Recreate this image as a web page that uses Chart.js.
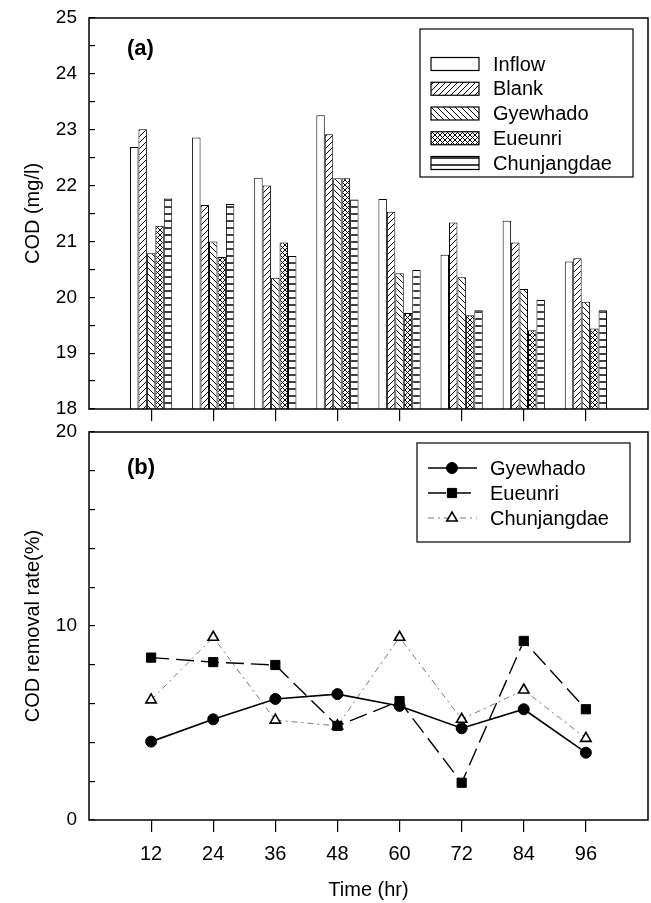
<!DOCTYPE html>
<html>
<head>
<meta charset="utf-8">
<script src="https://cdn.jsdelivr.net/npm/chart.js@4.4.1/dist/chart.umd.min.js"></script>
<style>
  html, body { margin: 0; padding: 0; background: #fff; }
  #wrap { position: relative; width: 651px; height: 903px; }
  #cod { position: absolute; left: 0; top: 0; }
  #rate { position: absolute; left: 0; top: 420px; }
</style>
</head>
<body>
<div id="wrap">
  <canvas id="cod" width="651" height="432"></canvas>
  <canvas id="rate" width="651" height="483"></canvas>
</div>
<script>
// sampling times (hr)
const hours = [12, 24, 36, 48, 60, 72, 84, 96];

// (a) COD, mg/l
const inflow = [22.69, 22.86, 22.14, 23.26, 21.76, 20.76, 21.37, 20.64];
const blank = [23.01, 21.65, 22.00, 22.92, 21.53, 21.34, 20.98, 20.70];
const gyewhadoCod = [20.79, 21.00, 20.35, 22.13, 20.43, 20.36, 20.15, 19.92];
const eueunriCod = [21.28, 20.72, 20.98, 22.13, 19.72, 19.68, 19.41, 19.44];
const chunjangdaeCod = [21.77, 21.67, 20.74, 21.75, 20.49, 19.77, 19.95, 19.77];

// (b) COD removal rate, %
const gyewhadoRate = [4.04, 5.19, 6.24, 6.49, 5.88, 4.73, 5.71, 3.47];
const eueunriRate = [8.37, 8.14, 7.99, 4.85, 6.13, 1.92, 9.23, 5.71];
const chunjangdaeRate = [6.19, 9.42, 5.15, 4.85, 9.42, 5.19, 6.70, 4.21];

const FONT = '"Liberation Sans", Arial, sans-serif';
Chart.defaults.font.family = FONT;
Chart.defaults.color = '#000';

function pts(vals) {
  return hours.map((h, i) => ({ x: h, y: vals[i] }));
}

// hatch fills for the bars
function hatch(kind) {
  const c = document.createElement('canvas');
  const s = kind === 'x' ? 5 : (kind === 'h' ? 7 : 6);
  c.width = s; c.height = s;
  const g = c.getContext('2d');
  g.fillStyle = '#fff';
  g.fillRect(0, 0, s, s);
  if (kind === 'none') return g.createPattern(c, 'repeat');
  g.strokeStyle = '#000';
  g.lineWidth = 1;
  g.beginPath();
  if (kind === '/' || kind === 'x') {
    g.moveTo(-1, s + 1); g.lineTo(s + 1, -1);
    g.moveTo(-1, 1); g.lineTo(1, -1);
    g.moveTo(s - 1, s + 1); g.lineTo(s + 1, s - 1);
  }
  if (kind === '\\' || kind === 'x') {
    g.moveTo(-1, -1); g.lineTo(s + 1, s + 1);
    g.moveTo(s - 1, -1); g.lineTo(s + 1, 1);
    g.moveTo(-1, s - 1); g.lineTo(1, s + 1);
  }
  if (kind === 'h') {
    g.lineWidth = 1.5;
    g.moveTo(0, 4); g.lineTo(s, 4);
  }
  g.stroke();
  return g.createPattern(c, 'repeat');
}

const hideEnds = ctx => (ctx.tick && (ctx.tick.value === 0 || ctx.tick.value === 108)) ? 'rgba(0,0,0,0)' : '#000';

// the tick padding would otherwise be added to the plot margins
const fixY = s => { s.width = 89; s.paddingTop = 0; s.paddingBottom = 0; };
const fixX = h => s => { s.height = h; s.paddingLeft = 0; s.paddingRight = 0; };

// box round the plot, panel tag and a boxed legend inside the plot
const frame = {
  id: 'frame',
  afterDraw(chart, args, o) {
    const { ctx, chartArea: a } = chart;
    ctx.save();
    ctx.strokeStyle = '#000';
    ctx.lineWidth = 1.5;
    ctx.setLineDash([]);
    ctx.strokeRect(a.left, a.top, a.right - a.left, a.bottom - a.top);

    ctx.fillStyle = '#000';
    ctx.font = 'bold 22px ' + FONT;
    ctx.textBaseline = 'middle';
    ctx.textAlign = 'left';
    ctx.fillText(o.tag, a.left + 38, a.top + o.tagY);

    const bx = a.right - o.boxRight - o.boxW, by = a.top + o.boxTop;
    ctx.fillStyle = '#fff';
    ctx.fillRect(bx, by, o.boxW, o.boxH);
    ctx.lineWidth = 1.2;
    ctx.strokeRect(bx, by, o.boxW, o.boxH);

    chart.data.datasets.forEach((ds, i) => {
      const y = by + o.first + i * o.step;
      const sx = bx + 11;
      if (o.kind === 'bar') {
        ctx.fillStyle = ds.backgroundColor;
        ctx.fillRect(sx, y - 6.5, 48, 13);
        ctx.lineWidth = 1.2;
        ctx.strokeStyle = '#000';
        ctx.strokeRect(sx, y - 6.5, 48, 13);
      } else {
        ctx.strokeStyle = ds.borderColor;
        ctx.lineWidth = ds.borderWidth;
        ctx.setLineDash(ds.borderDash || []);
        ctx.beginPath();
        ctx.moveTo(sx, y); ctx.lineTo(sx + 49, y);
        ctx.stroke();
        ctx.setLineDash([]);
        ctx.fillStyle = ds.pointBackgroundColor;
        ctx.strokeStyle = ds.pointBorderColor;
        ctx.lineWidth = ds.pointBorderWidth;
        ctx.beginPath();
        const r = ds.pointRadius;
        if (ds.pointStyle === 'circle') {
          ctx.arc(sx + 24, y, r, 0, Math.PI * 2);
        } else if (ds.pointStyle === 'rect') {
          const h = r * Math.SQRT1_2;
          ctx.rect(sx + 24 - h, y - h, 2 * h, 2 * h);
        } else {
          ctx.moveTo(sx + 24, y - r);
          ctx.lineTo(sx + 24 + r * 0.866, y + r * 0.5);
          ctx.lineTo(sx + 24 - r * 0.866, y + r * 0.5);
          ctx.closePath();
        }
        ctx.fill();
        ctx.stroke();
      }
      ctx.fillStyle = '#000';
      ctx.font = '20px ' + FONT;
      ctx.textBaseline = 'middle';
      ctx.fillText(ds.label, bx + o.textX, y + 1);
    });
    ctx.restore();
  }
};

const barStyle = { borderColor: '#000', borderWidth: 1, categoryPercentage: 0.68, barPercentage: 1.0 };

new Chart(document.getElementById('cod').getContext('2d'), {
  type: 'bar',
  data: {
    datasets: [
      { label: 'Inflow', data: pts(inflow), backgroundColor: hatch('none'), ...barStyle },
      { label: 'Blank', data: pts(blank), backgroundColor: hatch('/'), ...barStyle },
      { label: 'Gyewhado', data: pts(gyewhadoCod), backgroundColor: hatch('\\'), ...barStyle },
      { label: 'Eueunri', data: pts(eueunriCod), backgroundColor: hatch('x'), ...barStyle },
      { label: 'Chunjangdae', data: pts(chunjangdaeCod), backgroundColor: hatch('h'), ...barStyle }
    ]
  },
  options: {
    responsive: false,
    animation: false,
    layout: { autoPadding: false, padding: { left: 0, right: 3, top: 18, bottom: 0 } },
    scales: {
      x: {
        type: 'linear',
        min: 0, max: 108,
        offset: false,
        border: { display: false },
        grid: { offset: false, drawOnChartArea: false, tickLength: 12, lineWidth: 1.2, color: hideEnds },
        ticks: { display: false, stepSize: 12 },
        afterFit: fixX(23)
      },
      y: {
        min: 18, max: 25,
        border: { display: false },
        grid: { drawOnChartArea: false, tickLength: -6, lineWidth: 1.2, color: '#000' },
        ticks: {
          stepSize: 0.5, padding: 18,
          font: { size: 19 },
          callback: v => Number.isInteger(v) ? v : ''
        },
        title: { display: true, text: 'COD (mg/l)', font: { size: 20 }, padding: { top: 21 } },
        afterFit: fixY
      }
    },
    plugins: {
      legend: { display: false },
      tooltip: { enabled: false },
      frame: { tag: '(a)', tagY: 31, kind: 'bar', boxRight: 15, boxW: 213, boxTop: 11, boxH: 148, first: 35, step: 24.75, textX: 73 }
    }
  },
  plugins: [frame]
});

new Chart(document.getElementById('rate').getContext('2d'), {
  type: 'line',
  data: {
    datasets: [
      {
        label: 'Gyewhado', data: pts(gyewhadoRate),
        borderColor: '#000', borderWidth: 1.6,
        pointStyle: 'circle', pointRadius: 5.5, pointBackgroundColor: '#000', pointBorderColor: '#000', pointBorderWidth: 1
      },
      {
        label: 'Eueunri', data: pts(eueunriRate),
        borderColor: '#000', borderWidth: 1.4, borderDash: [18, 7],
        pointStyle: 'rect', pointRadius: 6.5, pointBackgroundColor: '#000', pointBorderColor: '#000', pointBorderWidth: 1
      },
      {
        label: 'Chunjangdae', data: pts(chunjangdaeRate),
        borderColor: '#777', borderWidth: 1, borderDash: [6, 4, 2, 4],
        pointStyle: 'triangle', pointRadius: 6, pointBackgroundColor: '#fff', pointBorderColor: '#000', pointBorderWidth: 1.6
      }
    ]
  },
  options: {
    responsive: false,
    animation: false,
    layout: { autoPadding: false, padding: { left: 0, right: 3, top: 12, bottom: 0 } },
    scales: {
      x: {
        type: 'linear',
        min: 0, max: 108,
        border: { display: false },
        grid: { drawOnChartArea: false, tickLength: 12, lineWidth: 1.2, color: hideEnds },
        ticks: {
          stepSize: 12, padding: 10, maxRotation: 0,
          font: { size: 20 },
          callback: v => (v === 0 || v === 108) ? '' : v
        },
        title: { display: true, text: 'Time (hr)', font: { size: 20 }, padding: { top: 4, bottom: 1 } },
        afterFit: fixX(83)
      },
      y: {
        min: 0, max: 20,
        border: { display: false },
        grid: { drawOnChartArea: false, tickLength: -6, lineWidth: 1.2, color: '#000' },
        ticks: {
          stepSize: 2, padding: 18,
          font: { size: 19 },
          callback: v => v % 10 === 0 ? v : ''
        },
        title: { display: true, text: 'COD removal rate(%)', font: { size: 20 }, padding: { top: 21 } },
        afterFit: fixY
      }
    },
    plugins: {
      legend: { display: false },
      tooltip: { enabled: false },
      frame: { tag: '(b)', tagY: 36, kind: 'line', boxRight: 18, boxW: 213, boxTop: 11, boxH: 99, first: 25, step: 25, textX: 73 }
    }
  },
  plugins: [frame]
});
</script>
</body>
</html>
